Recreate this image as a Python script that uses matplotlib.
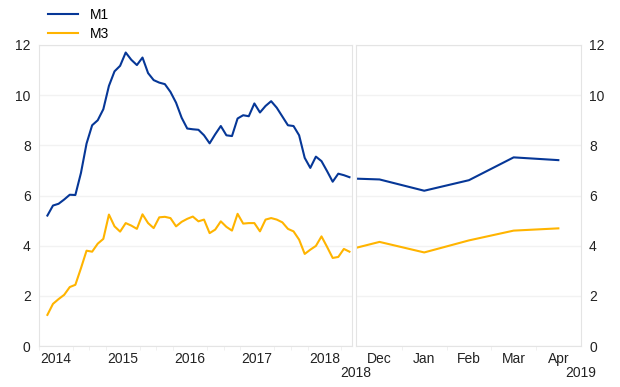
import matplotlib.pyplot as plt
import numpy as np

plt.rcParams['font.family'] = ['Liberation Sans', 'DejaVu Sans']
plt.rcParams['font.size'] = 10

# monthly growth rates, left panel
m1_hist = [5.2, 5.6, 5.67, 5.84, 6.03, 6.02, 6.9, 8.07, 8.8, 9.0, 9.44, 10.37, 10.95, 11.17,
           11.7, 11.41, 11.2, 11.5, 10.88, 10.6, 10.5, 10.44, 10.13, 9.7, 9.1, 8.67, 8.64,
           8.62, 8.4, 8.08, 8.44, 8.77, 8.4, 8.37, 9.07, 9.2, 9.16, 9.67, 9.31, 9.57, 9.76,
           9.5, 9.15, 8.8, 8.77, 8.4, 7.5, 7.1, 7.55, 7.37, 6.97, 6.55, 6.87, 6.81, 6.73]
m3_hist = [1.24, 1.68, 1.87, 2.04, 2.35, 2.44, 3.1, 3.8, 3.76, 4.08, 4.27, 5.24, 4.77, 4.56,
           4.9, 4.8, 4.67, 5.25, 4.9, 4.7, 5.13, 5.15, 5.1, 4.77, 4.95, 5.07, 5.16, 4.97,
           5.04, 4.5, 4.64, 4.97, 4.75, 4.6, 5.27, 4.88, 4.9, 4.9, 4.57, 5.04, 5.1, 5.04,
           4.93, 4.67, 4.57, 4.24, 3.67, 3.84, 3.99, 4.37, 3.95, 3.51, 3.55, 3.87, 3.76]
years = ['2014', '2015', '2016', '2017', '2018']

# right panel: Nov 2018 - Apr 2019
months = ['Nov', 'Dec', 'Jan', 'Feb', 'Mar', 'Apr']
m1_recent = [6.70, 6.64, 6.19, 6.61, 7.52, 7.41]
m3_recent = [3.70, 4.15, 3.73, 4.21, 4.60, 4.69]

blue = '#063797'
yellow = '#ffb400'
grey = '#e4e4e4'

fig = plt.figure(figsize=(6.2, 3.87), dpi=100)
ax1 = fig.add_axes([39/620, 1-346/387, (351.7-39)/620, 301/387])
ax2 = fig.add_axes([356/620, 1-346/387, (580.7-356)/620, 301/387])

x1 = np.arange(len(m1_hist))
ax1.plot(x1, m1_hist, color=blue, lw=1.5, label='M1')
ax1.plot(x1, m3_hist, color=yellow, lw=1.5, label='M3')
ax1.set_xlim(-0.35, 54.4)
ax1.set_xticks([1.5 + 12*i for i in range(len(years))])
ax1.set_xticklabels(years)
ax1.set_xticks(np.arange(-1.5, 54, 3), minor=True)

x2 = np.arange(len(months))
ax2.plot(x2, m1_recent, color=blue, lw=1.5)
ax2.plot(x2, m3_recent, color=yellow, lw=1.5)
ax2.set_xlim(0.474, 5.5)
ax2.set_xticks(x2[1:])
ax2.set_xticklabels(months[1:])
ax2.set_xticks([1.5, 2.5, 3.5, 4.5], minor=True)

for ax in (ax1, ax2):
    ax.set_ylim(0, 12)
    ax.set_yticks(range(0, 13, 2))
    ax.grid(axis='y', color='#f2f2f2', lw=1)
    ax.set_axisbelow(True)
    for s in ax.spines.values():
        s.set_color(grey)
    ax.tick_params(axis='both', which='major', length=0, labelcolor='#222222')
    ax.tick_params(axis='x', which='major', pad=4)
    ax.tick_params(axis='x', which='minor', length=3, color='#eeeeee')
    ax.tick_params(axis='y', pad=6)

ax1.yaxis.tick_left()
ax2.yaxis.tick_right()

fig.text(356/620, 1-373/387, '2018', ha='center', va='center', color='#222222')
fig.text(581/620, 1-373/387, '2019', ha='center', va='center', color='#222222')

fig.legend(loc='upper left', bbox_to_anchor=(40/620, 1.0), frameon=False,
           handlelength=2.1, handletextpad=0.9, labelspacing=0.35, borderaxespad=0.2)

plt.savefig('out.png', dpi=100)
plt.close()
